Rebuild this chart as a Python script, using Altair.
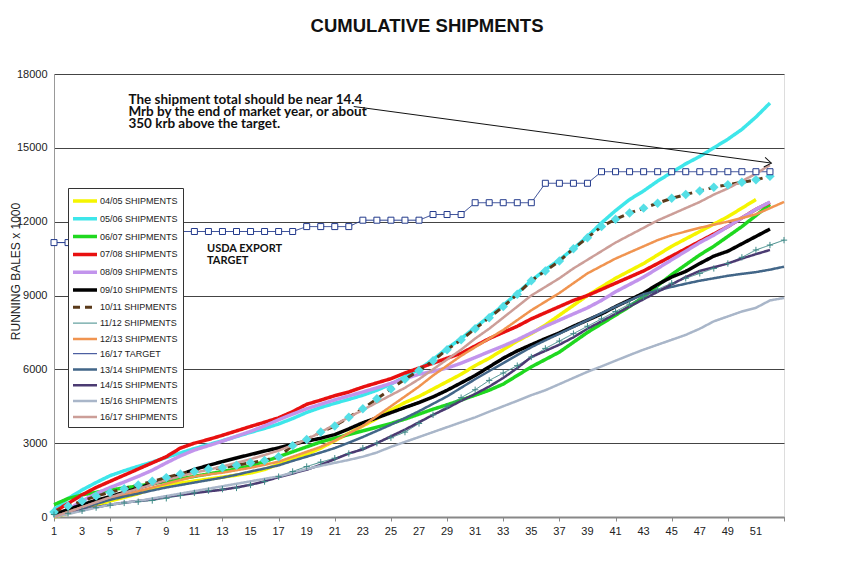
import altair as alt
import pandas as pd

# ---------------- data ----------------
s0405 = [0, 150, 300, 480, 650, 800, 950, 1150, 1280, 1380,
         1460, 1540, 1620, 1700, 1790, 1930, 2150, 2350, 2550, 2800,
         3100, 3400, 3700, 4000, 4350, 4650, 4900, 5200, 5500, 5800,
         6150, 6450, 6800, 7150, 7450, 7800, 8200, 8600, 9000, 9350,
         9700, 10000, 10300, 10650, 11000, 11300, 11600, 11900, 12200, 12550, 12900]
s0506 = [300, 750, 1100, 1400, 1680, 1880, 2060, 2230, 2420, 2600,
         2780, 2940, 3100, 3270, 3440, 3600, 3780, 4000, 4250, 4450,
         4620, 4780, 4950, 5150, 5400, 5700, 6000, 6400, 6850, 7250,
         7700, 8150, 8600, 9100, 9600, 10050, 10450, 10900, 11400, 11950,
         12450, 12900, 13250, 13650, 14000, 14350, 14650, 15000, 15350, 15750, 16250, 16820]
s0607 = [500, 750, 900, 1000, 1100, 1180, 1260, 1350, 1450, 1550,
         1650, 1750, 1850, 1950, 2080, 2250, 2450, 2650, 2850, 3050,
         3200, 3350, 3500, 3650, 3800, 3980, 4180, 4380, 4560, 4750,
         4950, 5150, 5400, 5750, 6100, 6400, 6700, 7100, 7500, 7850,
         8200, 8550, 8950, 9400, 9850, 10250, 10650, 11000, 11400, 11800, 12250, 12700]
s0708 = [200, 550, 900, 1200, 1450, 1700, 1950, 2200, 2450, 2800,
         3000, 3150, 3320, 3500, 3680, 3850, 4030, 4280, 4580, 4750,
         4930, 5080, 5280, 5450, 5620, 5850, 6050, 6250, 6450, 6650,
         6950, 7250, 7500, 7750, 8050, 8300, 8550, 8800, 9000, 9250,
         9500, 9750, 10000, 10300, 10600, 10900, 11200, 11500, 11800, 12150, 12500, 12780]
s0809 = [50, 300, 650, 950, 1200, 1420, 1650, 1900, 2200, 2480,
         2720, 2900, 3080, 3280, 3480, 3700, 3950, 4180, 4400, 4580,
         4760, 4920, 5080, 5250, 5430, 5620, 5800, 5920, 6050, 6250,
         6480, 6720, 6950, 7200, 7480, 7750, 8000, 8250, 8500, 8800,
         9150, 9450, 9750, 10100, 10450, 10800, 11150, 11450, 11800, 12150, 12500, 12800]
s0910 = [100, 300, 500, 680, 830, 1000, 1180, 1350, 1520, 1720,
         1930, 2100, 2250, 2400, 2540, 2680, 2810, 2950, 3080, 3200,
         3350, 3580, 3830, 4030, 4240, 4450, 4650, 4880, 5150, 5450,
         5750, 6100, 6450, 6750, 7000, 7250, 7480, 7750, 8000, 8250,
         8550, 8820, 9100, 9450, 9750, 9980, 10300, 10600, 10800, 11100, 11400, 11700]
s1011 = [200, 450, 650, 850, 1000, 1150, 1300, 1450, 1600, 1750,
         1850, 1950, 2000, 2100, 2200, 2300, 2450, 2900, 3150, 3450,
         3700, 4050, 4400, 4800, 5200, 5600, 5950, 6350, 6800, 7200,
         7650, 8100, 8550, 9050, 9600, 10000, 10400, 10900, 11350, 11800,
         12100, 12350, 12550, 12750, 12950, 13100, 13250, 13400, 13500, 13600, 13700, 13850]
s1112 = [100, 150, 250, 380, 480, 570, 620, 670, 760, 870,
         980, 1070, 1130, 1180, 1300, 1440, 1640, 1850, 2050, 2230,
         2390, 2580, 2800, 3000, 3220, 3450, 3800, 4150, 4500, 4850,
         5170, 5550, 5850, 6150, 6500, 6850, 7150, 7450, 7750, 8050,
         8350, 8650, 8950, 9250, 9500, 9700, 9900, 10100, 10300, 10550, 10850, 11050, 11250]
s1213 = [0, 200, 400, 580, 750, 900, 1050, 1200, 1350, 1500,
         1650, 1730, 1800, 1900, 2000, 2120, 2250, 2450, 2650, 2850,
         3100, 3400, 3700, 4100, 4500, 4900, 5300, 5750, 6150, 6550,
         6900, 7250, 7600, 8000, 8400, 8750, 9100, 9500, 9900, 10200,
         10500, 10750, 11000, 11250, 11450, 11600, 11750, 11880, 12000, 12150, 12300, 12550, 12800]
target = [11150, 11150, 11600, 11600, 11600, 11600, 11600, 11600, 11600, 11600,
          11600, 11600, 11600, 11600, 11600, 11600, 11600, 11600, 11800, 11800,
          11800, 11800, 12060, 12060, 12060, 12060, 12060, 12290, 12290, 12290,
          12770, 12770, 12770, 12770, 12770, 13560, 13560, 13560, 13560, 14030,
          14030, 14030, 14030, 14030, 14030, 14030, 14030, 14030, 14030, 14030, 14030, 14030]
s1314 = [0, 180, 350, 530, 700, 830, 950, 1080, 1200, 1300,
         1400, 1500, 1600, 1720, 1850, 1970, 2100, 2280, 2450, 2620,
         2800, 3020, 3250, 3500, 3750, 4020, 4300, 4600, 4900, 5250,
         5600, 5930, 6250, 6580, 6900, 7180, 7450, 7720, 8000, 8280,
         8550, 8800, 9050, 9200, 9350, 9480, 9600, 9700, 9800, 9880, 9950, 10050, 10170]
s1415 = [0, 150, 280, 400, 500, 580, 650, 720, 830, 900,
         970, 1040, 1110, 1200, 1310, 1450, 1620, 1770, 1920, 2120,
         2350, 2580, 2750, 3000, 3280, 3550, 3850, 4150, 4420, 4720,
         5000, 5300, 5650, 6050, 6500, 6750, 7000, 7300, 7650, 7950,
         8250, 8550, 8850, 9150, 9450, 9750, 10000, 10150, 10300, 10500, 10680, 10850]
s1516 = [0, 120, 250, 380, 500, 580, 650, 750, 850, 950,
         1050, 1150, 1250, 1350, 1450, 1550, 1650, 1800, 1950, 2080,
         2200, 2320, 2450, 2620, 2850, 3050, 3250, 3450, 3650, 3850,
         4050, 4280, 4500, 4720, 4950, 5150, 5400, 5650, 5900, 6120,
         6350, 6580, 6800, 7000, 7200, 7400, 7650, 7950, 8150, 8350, 8500, 8800, 8900]
s1617 = [0, 200, 400, 600, 800, 980, 1150, 1320, 1500, 1650,
         1800, 1920, 2050, 2200, 2350, 2520, 2700, 2920, 3150, 3450,
         3750, 4050, 4350, 4650, 4950, 5250, 5600, 6000, 6400, 6800,
         7250, 7650, 8100, 8550, 9000, 9350, 9700, 10100, 10450, 10800,
         11150, 11450, 11750, 12050, 12300, 12550, 12800, 13100, 13350, 13650, 13950, 14300]

series_names = ["04/05 SHIPMENTS", "05/06 SHIPMENTS", "06/07 SHIPMENTS", "07/08 SHIPMENTS",
                "08/09 SHIPMENTS", "09/10 SHIPMENTS", "10/11 SHIPMENTS", "11/12 SHIPMENTS",
                "12/13 SHIPMENTS", "16/17 TARGET", "13/14 SHIPMENTS", "14/15 SHIPMENTS",
                "15/16 SHIPMENTS", "16/17 SHIPMENTS"]
series_values = [s0405, s0506, s0607, s0708, s0809, s0910, s1011, s1112,
                 s1213, target, s1314, s1415, s1516, s1617]

y_ticks = [0, 3000, 6000, 9000, 12000, 15000, 18000]
x_tick_weeks = list(range(1, 54))
x_label_weeks = [1, 3, 5, 7, 9, 11, 13, 15, 17, 19, 21, 23, 25, 27, 29, 31, 33, 35,
                 37, 39, 41, 43, 45, 47, 49, 51]

note_lines = ["The shipment total should be near 14.4",
              "Mrb by the end of market year, or about",
              "350 krb above the target."]
note_week = [6.3, 6.3, 6.3]
note_val = [16940, 16460, 15980]

target_label = ["USDA EXPORT", "TARGET"]
target_label_week = [11.9, 11.9]
target_label_val = [10890, 10400]

arrow_from = [22.35, 16680]
arrow_to = [52.1, 14380]

# ---------------- styles ----------------
colors = ["#f5f500", "#3ee6ea", "#1fd81f", "#e81010", "#c294ec", "#000000", "#5a3a1a",
          "#3f8a88", "#f09450", "#233a8c", "#426688", "#4b3b72", "#a9b6c9", "#cc9e98"]
widths = [3.5, 3.5, 3.5, 3.5, 3.5, 3.5, 3, 1, 2.5, 1, 2.5, 2.5, 2.5, 2.5]
dashes = [[1, 0]] * 14
dashes[6] = [7, 5]

FONT = "Liberation Sans"
PLOT_H = 443

rows = []
for name, vals in zip(series_names, series_values):
    for i, v in enumerate(vals):
        rows.append({"series": name, "week": i + 1, "value": v})
df = pd.DataFrame(rows)

xscale = alt.Scale(domain=[1, 53], nice=False, zero=False)
yscale = alt.Scale(domain=[0, 18000], nice=False)

legend = alt.Legend(
    orient="none", legendX=14, legendY=114, title=None,
    symbolType="M-2,0H2", symbolSize=144,
    symbolOffset=4, labelOffset=7,
    labelFont=FONT, labelFontSize=9, labelColor="#222",
    rowPadding=2.8, padding=5, fillColor="white", strokeColor="#333",
)

x_enc = alt.X("week:Q", scale=xscale, axis=alt.Axis(
    values=x_tick_weeks, labels=False,
    tickSize=4, tickColor="#888", domainColor="#888", domainWidth=2,
    grid=False, title=None))
y_enc = alt.Y("value:Q", scale=yscale, axis=alt.Axis(
    values=y_ticks, format="d", tickSize=0, labelPadding=7,
    labelFont=FONT, labelFontSize=11, labelColor="#222",
    domainColor="#999", gridColor="#444", gridWidth=1,
    title="RUNNING BALES x 1000", titleFont=FONT, titleFontSize=12,
    titleFontWeight="normal", titleColor="#222",
    titleX=-39, titleY=197, titleAngle=270, titleBaseline="middle"))

lines = alt.Chart(df).mark_line(strokeJoin="round").encode(
    x=x_enc, y=y_enc,
    color=alt.Color("series:N", scale=alt.Scale(domain=series_names, range=colors), legend=legend),
    strokeDash=alt.StrokeDash("series:N", scale=alt.Scale(domain=series_names, range=dashes), legend=legend),
    strokeWidth=alt.StrokeWidth("series:N", scale=alt.Scale(type="ordinal", domain=series_names, range=widths),
                                legend=legend),
)

# week labels under the axis (odd weeks only)
xlab_df = pd.DataFrame({"week": x_label_weeks})
xlabels = alt.Chart(xlab_df).mark_text(
    font=FONT, fontSize=11, color="#222", baseline="middle", align="center"
).encode(x=alt.X("week:Q", scale=xscale), y=alt.value(PLOT_H + 15), text="week:Q")

diamonds = alt.Chart(df[df.series == "10/11 SHIPMENTS"]).mark_point(
    shape="diamond", filled=True, size=90, color="#55dfe6", opacity=1
).encode(x=alt.X("week:Q", scale=xscale), y=alt.Y("value:Q", scale=yscale))

crosses = alt.Chart(df[df.series == "11/12 SHIPMENTS"]).mark_point(
    shape="M-1,0H1M0,-1V1", filled=False, size=40, color="#3f8a88", strokeWidth=1, opacity=1
).encode(x=alt.X("week:Q", scale=xscale), y=alt.Y("value:Q", scale=yscale))

squares = alt.Chart(df[df.series == "16/17 TARGET"]).mark_point(
    shape="square", filled=True, size=36, fill="white", stroke="#233a8c", strokeWidth=1, opacity=1
).encode(x=alt.X("week:Q", scale=xscale), y=alt.Y("value:Q", scale=yscale))

arrow_df = pd.DataFrame({"x": [arrow_from[0]], "y": [arrow_from[1]],
                         "x2": [arrow_to[0]], "y2": [arrow_to[1]]})
arrow = alt.Chart(arrow_df).mark_rule(color="#111", strokeWidth=1).encode(
    x=alt.X("x:Q", scale=xscale), y=alt.Y("y:Q", scale=yscale), x2="x2:Q", y2="y2:Q")
head = alt.Chart(arrow_df).mark_point(
    shape="M-1,-0.7L0,0L-1,0.7", filled=False, size=196, angle=7.7,
    stroke="#111", strokeWidth=1, opacity=1
).encode(x=alt.X("x2:Q", scale=xscale), y=alt.Y("y2:Q", scale=yscale))

note_df = pd.DataFrame({"w": note_week, "v": note_val, "t": note_lines})
note = alt.Chart(note_df).mark_text(
    align="left", baseline="middle", font="Lato", fontWeight="bold", fontSize=13.5, color="#111"
).encode(x=alt.X("w:Q", scale=xscale), y=alt.Y("v:Q", scale=yscale), text="t:N")

tl_df = pd.DataFrame({"w": target_label_week, "v": target_label_val, "t": target_label})
tlabel = alt.Chart(tl_df).mark_text(
    align="left", baseline="middle", font="Lato", fontWeight="bold", fontSize=11, color="#111"
).encode(x=alt.X("w:Q", scale=xscale), y=alt.Y("v:Q", scale=yscale), text="t:N")

chart = alt.layer(lines, diamonds, crosses, squares, arrow, head, note, tlabel, xlabels).properties(
    width=730, height=PLOT_H,
    title=alt.TitleParams("CUMULATIVE  SHIPMENTS", font=FONT, fontSize=18.5, fontWeight="bold",
                          color="#111", anchor="middle", frame="group", baseline="middle",
                          offset=24, dx=8),
    padding={"left": 46, "top": 66, "right": 49, "bottom": 51},
    autosize=alt.AutoSizeParams(type="none"),
).configure_view(stroke="#999", strokeWidth=1).configure(background="white")

chart.save("out.html", embed_options={"renderer": "svg", "actions": False})
